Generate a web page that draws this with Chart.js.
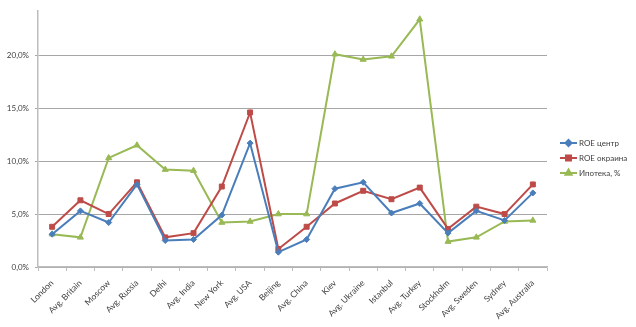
<!DOCTYPE html>
<html>
<head>
<meta charset="utf-8">
<script src="https://cdn.jsdelivr.net/npm/chart.js@4/dist/chart.umd.min.js"></script>
<style>
  html, body { margin: 0; padding: 0; background: #fff; }
  #wrap { width: 636px; height: 327px; position: relative; }
</style>
</head>
<body>
<div id="wrap"><canvas id="c" width="636" height="327"></canvas></div>
<script>
const categories = ['London', 'Avg. Britain', 'Moscow', 'Avg. Russia', 'Delhi', 'Avg. India',
  'New York', 'Avg. USA', 'Beijing', 'Avg. China', 'Kiev', 'Avg. Ukraine', 'Istanbul',
  'Avg. Turkey', 'Stockholm', 'Avg. Sweden', 'Sydney', 'Avg. Australia'];

const roeCenter   = [3.1, 5.3, 4.2, 7.8, 2.5, 2.6, 4.9, 11.7, 1.4, 2.6, 7.4, 8.0, 5.1, 6.0, 3.2, 5.3, 4.4, 7.0];
const roeOutskirt = [3.8, 6.3, 5.0, 8.0, 2.8, 3.2, 7.6, 14.6, 1.7, 3.8, 6.0, 7.2, 6.4, 7.5, 3.6, 5.7, 5.0, 7.8];
const mortgage    = [3.1, 2.8, 10.3, 11.5, 9.2, 9.1, 4.2, 4.3, 5.0, 5.0, 20.1, 19.6, 19.9, 23.4, 2.4, 2.8, 4.3, 4.4];

const seriesNames = ['ROE центр', 'ROE окраина', 'Ипотека, %'];
const yTicks = [0, 5, 10, 15, 20];

const FONT = 'Lato, "Open Sans", sans-serif';
const TEXT = '#404040';

// Legend drawn at the right of the plot, one row per series
const sideLegend = {
  id: 'sideLegend',
  afterDraw(chart) {
    const ctx = chart.ctx;
    const x0 = 560, x1 = 577, tx = 579;
    const rows = [143, 158, 173];
    ctx.save();
    ctx.font = '8px ' + FONT;
    ctx.textBaseline = 'middle';
    ctx.textAlign = 'left';
    chart.data.datasets.forEach((ds, i) => {
      const y = rows[i];
      ctx.strokeStyle = ds.borderColor;
      ctx.lineWidth = 2;
      ctx.beginPath();
      ctx.moveTo(x0, y);
      ctx.lineTo(x1, y);
      ctx.stroke();
      ctx.fillStyle = ds.borderColor;
      Chart.helpers.drawPoint(ctx, {
        pointStyle: ds.pointStyle,
        radius: ds.pointRadius,
        borderWidth: 1
      }, (x0 + x1) / 2, y);
      ctx.fillStyle = TEXT;
      ctx.fillText(ds.label, tx, y + 0.5);
    });
    ctx.restore();
  }
};

function line(label, data, color, style, r) {
  return {
    label, data,
    borderColor: color,
    backgroundColor: color,
    borderWidth: 2,
    pointStyle: style,
    pointRadius: r,
    pointHoverRadius: r,
    pointBorderWidth: 1,
    tension: 0
  };
}

new Chart(document.getElementById('c'), {
  type: 'line',
  data: {
    labels: categories,
    datasets: [
      line(seriesNames[0], roeCenter, '#4a7ebb', 'rectRot', 3),
      line(seriesNames[1], roeOutskirt, '#be4b48', 'rect', 3.5),
      line(seriesNames[2], mortgage, '#98b954', 'triangle', 3.5)
    ]
  },
  options: {
    responsive: false,
    animation: false,
    devicePixelRatio: 1,
    layout: { padding: { top: 9, right: 89, left: 0, bottom: 0 } },
    plugins: {
      legend: { display: false },
      tooltip: { enabled: false }
    },
    scales: {
      x: {
        type: 'category',
        offset: true,
        grid: {
          offset: true,
          drawOnChartArea: false,
          drawTicks: true,
          tickLength: 4,
          color: '#bdbdbd',
          lineWidth: 1
        },
        border: { color: '#bdbdbd', width: 1.5 },
        ticks: {
          autoSkip: false,
          minRotation: 45,
          maxRotation: 45,
          padding: 7,
          color: TEXT,
          font: { family: FONT, size: 8.5 }
        },
        afterFit(scale) { scale.height = 60; }
      },
      y: {
        min: 0,
        max: 24.2,
        ticks: {
          stepSize: 5,
          padding: 6,
          color: TEXT,
          font: { family: FONT, size: 8 },
          callback: v => v.toFixed(1).replace('.', ',') + '%'
        },
        afterBuildTicks(scale) {
          scale.ticks = yTicks.map(v => ({ value: v }));
        },
        grid: {
          color: '#a6a6a6',
          lineWidth: 1,
          drawTicks: true,
          tickLength: 3
        },
        border: { color: '#bdbdbd', width: 1.5 },
        afterFit(scale) { scale.width = 38; }
      }
    }
  },
  plugins: [sideLegend]
});
</script>
</body>
</html>
